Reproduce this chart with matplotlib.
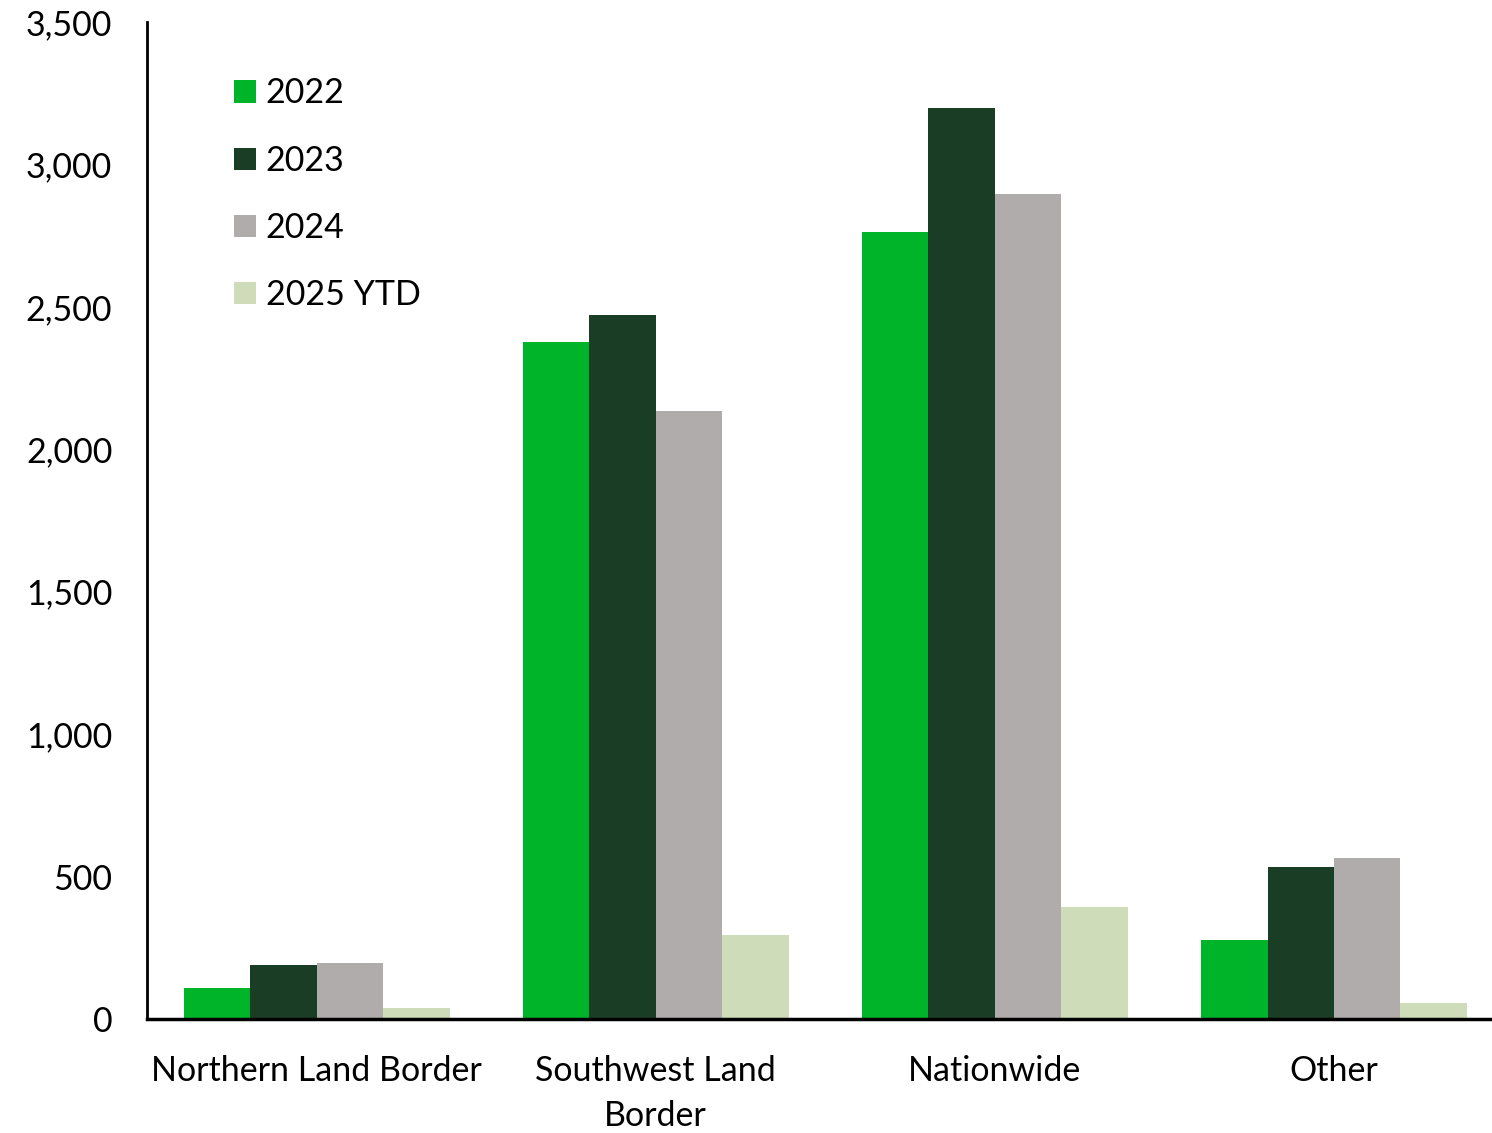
import matplotlib
matplotlib.use("Agg")
from matplotlib import pyplot as plt
import numpy as np

categories = ["Northern Land Border", "Southwest Land\nBorder", "Nationwide", "Other"]
series_names = ["2022", "2023", "2024", "2025 YTD"]
values_2022 = [109, 2375, 2764, 277]
values_2023 = [189, 2473, 3199, 533]
values_2024 = [196, 2133, 2897, 565]
values_2025 = [39, 295, 393, 56]
colors = ["#00B42A", "#193D25", "#AFACAB", "#CFDCB9"]

plt.rcParams["font.family"] = ["Lato", "DejaVu Sans"]

fig = plt.figure(figsize=(14.92, 11.33), dpi=100)
ax = fig.add_axes([147 / 1492, 1 - 1019 / 1133, (1490 - 147) / 1492, (1019 - 22) / 1133])

x = np.arange(len(categories))
width = 0.196
all_values = [values_2022, values_2023, values_2024, values_2025]
for i, (name, vals, c) in enumerate(zip(series_names, all_values, colors)):
    ax.bar(x + (i - 1.5) * width, vals, width, color=c, label=name)

ax.set_xlim(-0.5, 3.46)
ax.set_ylim(0, 3500)
ax.set_yticks(np.arange(0, 3501, 500))
ax.set_yticklabels([f"{v:,}" for v in range(0, 3501, 500)])
ax.set_xticks(x)
ax.set_xticklabels(categories, linespacing=1.48)

ax.spines["top"].set_visible(False)
ax.spines["right"].set_visible(False)
ax.spines["left"].set_linewidth(2)
ax.spines["bottom"].set_linewidth(2.5)
ax.tick_params(axis="both", length=0, labelsize=24.5)
ax.tick_params(axis="x", pad=26)
ax.tick_params(axis="y", pad=25)

ax.legend(frameon=False, loc="upper left", bbox_to_anchor=(0.055, 0.958),
          fontsize=24.5, handlelength=0.62, handleheight=0.62, handletextpad=0.3,
          labelspacing=1.035, borderaxespad=0)

fig.savefig("out.png", dpi=100)
